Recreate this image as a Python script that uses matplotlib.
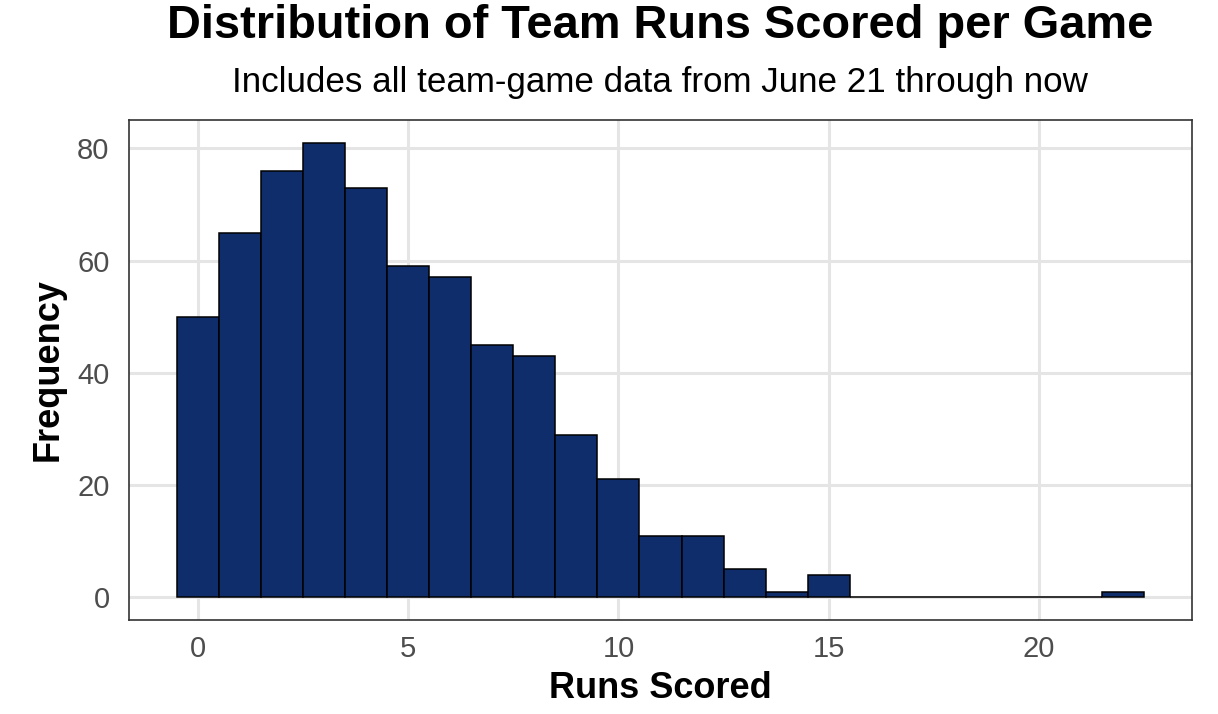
import numpy as np
import matplotlib
matplotlib.use("Agg")
import matplotlib.pyplot as plt

plt.rcParams['font.family'] = ['Liberation Sans', 'DejaVu Sans']

# runs scored (bin centres) and how many team-games had that many
runs = np.arange(0, 23)
freq = [50, 65, 76, 81, 73, 59, 57, 45, 43, 29, 21, 11, 11, 5, 1, 4,
        0, 0, 0, 0, 0, 0, 1]

W, H = 1218, 714
fig = plt.figure(figsize=(W / 100, H / 100), dpi=100)
ax = fig.add_axes([129 / W, 1 - 620 / H, (1192 - 129) / W, 500 / H])

ax.bar(runs, freq, width=1, color='#0F2D6B', edgecolor='black', linewidth=1.1, zorder=3)

ax.set_xlim(-1.65, 23.65)
ax.set_ylim(-4.05, 85.05)
ax.set_xticks([0, 5, 10, 15, 20])
ax.set_yticks([0, 20, 40, 60, 80])
ax.grid(True, color='#E5E5E5', linewidth=2.2, zorder=0)
ax.tick_params(length=0, labelsize=21, labelcolor='#4D4D4D')
ax.tick_params(axis='x', pad=10.5)
ax.tick_params(axis='y', pad=14)
for s in ax.spines.values():
    s.set_color('#333333')
    s.set_linewidth(1.2)

ax.set_xlabel('Runs Scored', fontsize=26, fontweight='bold')
ax.xaxis.set_label_coords(0.5, -0.102)
ax.set_ylabel('Frequency', fontsize=26, fontweight='bold')
ax.yaxis.set_label_coords(-0.06, 0.5)

fig.text(660 / W, 1 - 38 / H, 'Distribution of Team Runs Scored per Game',
         ha='center', va='baseline', fontsize=33.8, fontweight='bold')
fig.text(660 / W, 1 - 92 / H, 'Includes all team-game data from June 21 through now',
         ha='center', va='baseline', fontsize=25.2)

fig.savefig('out.png', dpi=100)
